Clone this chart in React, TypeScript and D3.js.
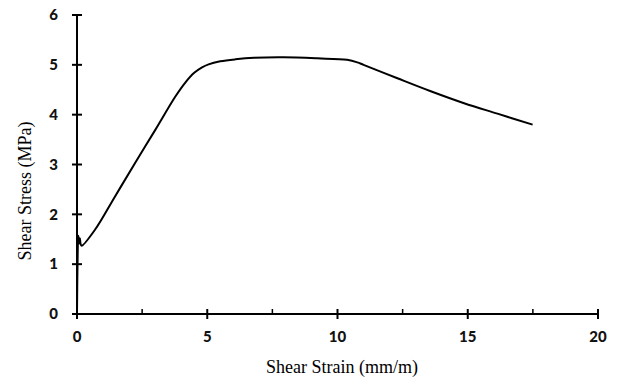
import React, { useEffect, useRef } from "react";
import * as d3 from "d3";

// strain (mm/m) vs stress (MPa)
const strain = [
  0, 0.02, 0.05, 0.08, 0.11, 0.14, 0.18, 0.69, 1.46, 2.23, 3.0, 3.77, 4.15,
  4.5, 4.8, 5.05, 5.5, 6.08, 6.8, 7.92, 9.22, 10.37, 10.76, 11.0, 12.3, 13.58,
  14.86, 16.14, 17.49,
];
const stress = [
  0, 1.0, 1.57, 1.42, 1.52, 1.4, 1.37, 1.69, 2.36, 3.03, 3.69, 4.36, 4.64,
  4.84, 4.95, 5.01, 5.07, 5.11, 5.14, 5.15, 5.13, 5.1, 5.05, 5.0, 4.73, 4.47,
  4.23, 4.02, 3.8,
];
const xTicks = [0, 5, 10, 15, 20];
const xMinorTicks = [2.5, 7.5, 12.5, 17.5];
const yTicks = [0, 1, 2, 3, 4, 5, 6];

export default function App() {
  const svgRef = useRef<SVGSVGElement>(null);

  useEffect(() => {
    const width = 622;
    const height = 378;
    const marginLeft = 77;
    const marginRight = 24;
    const marginTop = 15;
    const marginBottom = 64;

    const svg = d3.select(svgRef.current);
    svg.selectAll("*").remove();

    const x = d3
      .scaleLinear()
      .domain([0, 20])
      .range([marginLeft, width - marginRight]);
    const y = d3
      .scaleLinear()
      .domain([0, 6])
      .range([height - marginBottom, marginTop]);

    const tickFont = "Lato, 'Open Sans', sans-serif";
    const titleFont = "'Liberation Serif', 'Times New Roman', serif";

    // x axis
    const xAxis = svg
      .append("g")
      .attr("transform", `translate(0,${y(0)})`);
    xAxis
      .append("line")
      .attr("x1", x(0))
      .attr("x2", x(20))
      .attr("stroke", "#000")
      .attr("stroke-width", 2);
    xAxis
      .selectAll("line.major")
      .data(xTicks)
      .join("line")
      .attr("class", "major")
      .attr("x1", (d) => x(d))
      .attr("x2", (d) => x(d))
      .attr("y1", -5)
      .attr("y2", 5)
      .attr("stroke", "#000")
      .attr("stroke-width", 2);
    xAxis
      .selectAll("line.minor")
      .data(xMinorTicks)
      .join("line")
      .attr("class", "minor")
      .attr("x1", (d) => x(d))
      .attr("x2", (d) => x(d))
      .attr("y1", -5)
      .attr("y2", 0)
      .attr("stroke", "#000")
      .attr("stroke-width", 1.5);
    xAxis
      .selectAll("text")
      .data(xTicks)
      .join("text")
      .attr("x", (d) => x(d))
      .attr("y", 28)
      .attr("text-anchor", "middle")
      .attr("font-family", tickFont)
      .attr("font-weight", 900)
      .attr("font-size", 15)
      .attr("fill", "#111")
      .text((d) => d);

    // y axis
    const yAxis = svg
      .append("g")
      .attr("transform", `translate(${x(0)},0)`);
    yAxis
      .append("line")
      .attr("y1", y(0))
      .attr("y2", y(6))
      .attr("stroke", "#000")
      .attr("stroke-width", 2);
    yAxis
      .selectAll("line.tick")
      .data(yTicks)
      .join("line")
      .attr("class", "tick")
      .attr("x1", -5)
      .attr("x2", 5)
      .attr("y1", (d) => y(d))
      .attr("y2", (d) => y(d))
      .attr("stroke", "#000")
      .attr("stroke-width", 2);
    yAxis
      .selectAll("text")
      .data(yTicks)
      .join("text")
      .attr("x", -19)
      .attr("y", (d) => y(d))
      .attr("dy", "0.35em")
      .attr("text-anchor", "end")
      .attr("font-family", tickFont)
      .attr("font-weight", 900)
      .attr("font-size", 15)
      .attr("fill", "#111")
      .text((d) => d);

    // curve
    const points = strain.map((s, i) => [s, stress[i]] as [number, number]);
    const line = d3
      .line<[number, number]>()
      .x((d) => x(d[0]))
      .y((d) => y(d[1]))
      .curve(d3.curveCatmullRom.alpha(0.5));
    svg
      .append("path")
      .datum(points)
      .attr("fill", "none")
      .attr("stroke", "#000")
      .attr("stroke-width", 2)
      .attr("stroke-linejoin", "round")
      .attr("d", line);

    // axis titles
    svg
      .append("text")
      .attr("x", 342)
      .attr("y", 373)
      .attr("text-anchor", "middle")
      .attr("font-family", titleFont)
      .attr("font-size", 18)
      .attr("fill", "#000")
      .text("Shear Strain (mm/m)");
    svg
      .append("text")
      .attr("transform", "translate(31,191) rotate(-90)")
      .attr("text-anchor", "middle")
      .attr("font-family", titleFont)
      .attr("font-size", 18)
      .attr("fill", "#000")
      .text("Shear Stress (MPa)");
  }, []);

  return (
    <svg
      ref={svgRef}
      width={622}
      height={378}
      style={{ position: "absolute", left: 0, top: 0, background: "#fff" }}
    />
  );
}
